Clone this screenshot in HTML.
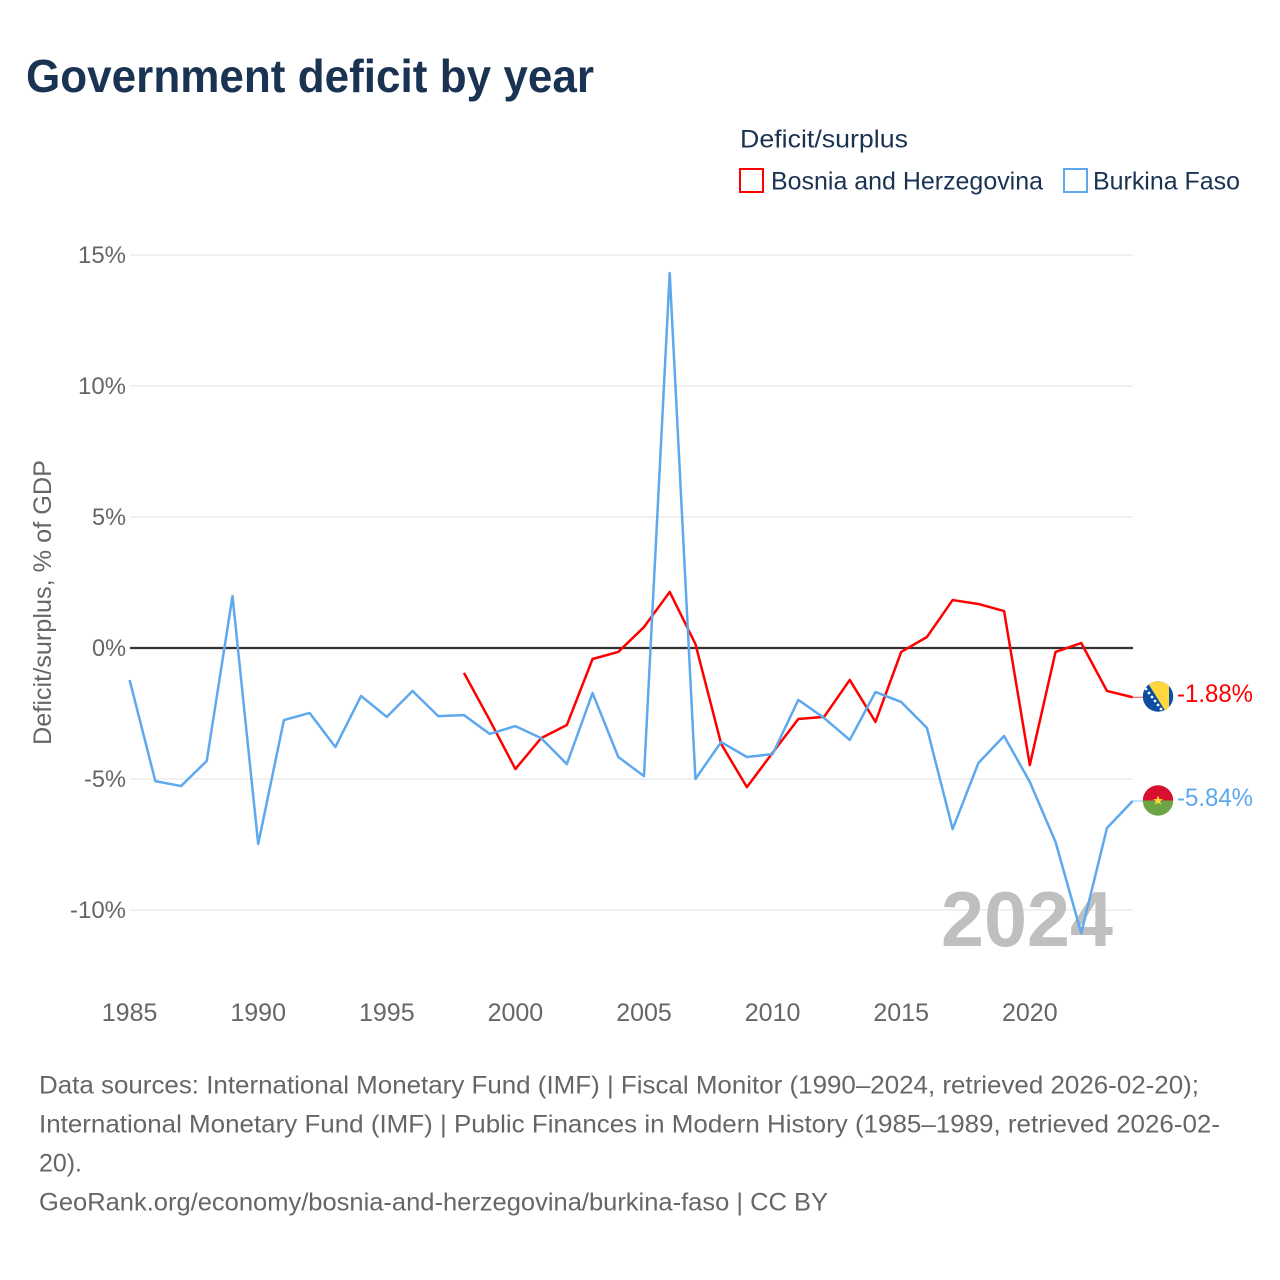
<!DOCTYPE html>
<html lang="en">
<head>
<meta charset="utf-8">
<title>Government deficit by year</title>
<style>
  html, body { margin: 0; padding: 0; background: #fff; }
  svg { display: block; font-family: "Liberation Sans", sans-serif; }
</style>
</head>
<body>
<svg id="chart" width="1280" height="1280" viewBox="0 0 1280 1280" xmlns="http://www.w3.org/2000/svg">
  <defs>
    <clipPath id="flag-clip-a"><circle cx="1158" cy="696.5" r="15.2"/></clipPath>
    <clipPath id="flag-clip-b"><circle cx="1158" cy="800.5" r="15.2"/></clipPath>
  </defs>
  <rect x="0" y="0" width="1280" height="1280" fill="#ffffff"/>
  <text x="26" y="92" font-size="46" font-weight="700" fill="#1a3352" textLength="568" lengthAdjust="spacingAndGlyphs">Government deficit by year</text>
  <text x="740" y="147.5" font-size="25" fill="#1a3352" textLength="168" lengthAdjust="spacingAndGlyphs">Deficit/surplus</text>
  <rect x="740" y="169" width="23" height="23" fill="#fff" stroke="#ff0000" stroke-width="2"/>
  <text x="771" y="189.5" font-size="25" fill="#1a3352" textLength="272" lengthAdjust="spacingAndGlyphs">Bosnia and Herzegovina</text>
  <rect x="1064" y="169" width="23" height="23" fill="#fff" stroke="#5ea8ee" stroke-width="2"/>
  <text x="1093" y="189.5" font-size="25" fill="#1a3352" textLength="147" lengthAdjust="spacingAndGlyphs">Burkina Faso</text>
  <text transform="translate(51,745) rotate(-90)" x="0" y="0" font-size="25" fill="#666666" textLength="285" lengthAdjust="spacingAndGlyphs">Deficit/surplus, % of GDP</text>
  <g id="grid"></g>
  <g id="ylabels"></g>
  <g id="xlabels"></g>
  <text x="1113" y="946" text-anchor="end" font-size="78" font-weight="700" fill="#bfbfbf" textLength="172" lengthAdjust="spacingAndGlyphs">2024</text>
  <g id="series"></g>
  <g clip-path="url(#flag-clip-a)">
    <rect x="1142" y="681" width="32" height="32" fill="#0b4ea2"/>
    <polygon points="1146,680 1169,680 1169,712 1166,712" fill="#ffd83d"/>
    <g fill="#ffffff">
      <circle cx="1146" cy="689" r="1.4"/><circle cx="1149" cy="693" r="1.4"/><circle cx="1152" cy="697" r="1.4"/>
      <circle cx="1155" cy="701" r="1.4"/><circle cx="1158" cy="705" r="1.4"/><circle cx="1161" cy="709" r="1.4"/>
    </g>
  </g>
  <g clip-path="url(#flag-clip-b)">
    <rect x="1142" y="785" width="32" height="15.5" fill="#d80f2e"/>
    <rect x="1142" y="800.5" width="32" height="16" fill="#6da544"/>
    <polygon points="1158,795.5 1159.4,799.1 1163,799.1 1160,801.3 1161.2,804.9 1158,802.7 1154.8,804.9 1156,801.3 1153,799.1 1156.6,799.1" fill="#ffd83d"/>
  </g>
  <text id="value-a" x="1177" y="702" font-size="25" fill="#ff0000" textLength="76" lengthAdjust="spacingAndGlyphs"></text>
  <text id="value-b" x="1177" y="806" font-size="25" fill="#5ea8ee" textLength="76" lengthAdjust="spacingAndGlyphs"></text>
  <g font-size="25" fill="#666666">
    <text x="39" y="1093.5" textLength="1160" lengthAdjust="spacingAndGlyphs">Data sources: International Monetary Fund (IMF) | Fiscal Monitor (1990–2024, retrieved 2026-02-20);</text>
    <text x="39" y="1132.5" textLength="1181" lengthAdjust="spacingAndGlyphs">International Monetary Fund (IMF) | Public Finances in Modern History (1985–1989, retrieved 2026-02-</text>
    <text x="39" y="1171.5" textLength="43" lengthAdjust="spacingAndGlyphs">20).</text>
    <text x="39" y="1210.5" textLength="789" lengthAdjust="spacingAndGlyphs">GeoRank.org/economy/bosnia-and-herzegovina/burkina-faso | CC BY</text>
  </g>
</svg>
<script>
const years = [1985,1986,1987,1988,1989,1990,1991,1992,1993,1994,1995,1996,1997,1998,1999,2000,2001,2002,2003,2004,2005,2006,2007,2008,2009,2010,2011,2012,2013,2014,2015,2016,2017,2018,2019,2020,2021,2022,2023,2024];
const burkinaValues = [-1.22,-5.08,-5.27,-4.31,1.98,-7.48,-2.75,-2.48,-3.78,-1.83,-2.63,-1.64,-2.6,-2.56,-3.28,-2.98,-3.44,-4.43,-1.72,-4.16,-4.89,14.31,-5.0,-3.59,-4.16,-4.05,-1.98,-2.67,-3.51,-1.68,-2.06,-3.05,-6.91,-4.39,-3.36,-5.11,-7.4,-10.88,-6.87,-5.84];
const bosniaValues = [null,null,null,null,null,null,null,null,null,null,null,null,null,-0.95,-2.75,-4.62,-3.44,-2.94,-0.42,-0.15,0.8,2.14,0.15,-3.66,-5.31,-4.0,-2.71,-2.63,-1.22,-2.82,-0.15,0.42,1.83,1.68,1.41,-4.47,-0.15,0.19,-1.64,-1.88];
const yTicks = [15,10,5,0,-5,-10];
const xTicks = [1985,1990,1995,2000,2005,2010,2015,2020];

const NS = 'http://www.w3.org/2000/svg';
function xScale(year) { return 129.6 + (year - 1985) * 25.72; }
function yScale(value) { return 648 - value * 26.2; }
function make(tag, parent, attrs) {
  const el = document.createElementNS(NS, tag);
  for (const k in attrs) el.setAttribute(k, attrs[k]);
  parent.appendChild(el);
  return el;
}

const grid = document.getElementById('grid');
const ylabels = document.getElementById('ylabels');
yTicks.forEach(function (t) {
  const line = make('line', grid, { x1: 130, x2: 1133, y1: yScale(t), y2: yScale(t), stroke: t === 0 ? '#333333' : '#ebebeb', 'stroke-width': t === 0 ? 2.2 : 1.6 });
  
  
  const txt = t + '%';
  const digits = String(Math.abs(t)).length;
  const labelWidth = digits * 14 + 20 + (t < 0 ? 8 : 0);
  const label = make('text', ylabels, { x: 126, y: yScale(t) + 8, 'text-anchor': 'end', 'font-size': 24, fill: '#666666', textLength: labelWidth, lengthAdjust: 'spacingAndGlyphs' });
  label.textContent = txt;
  
  
});

const xlabels = document.getElementById('xlabels');
xTicks.forEach(function (t) {
  const label = make('text', xlabels, { x: xScale(t), y: 1021, 'text-anchor': 'middle', 'font-size': 25, fill: '#666666' });
  label.textContent = t;
  
  
});

function pointsFor(values) {
  const pts = [];
  values.forEach(function (v, i) {
    if (v !== null) pts.push(xScale(years[i]).toFixed(2) + ',' + yScale(v).toFixed(2));
  });
  return pts.join(' ');
}

const seriesGroup = document.getElementById('series');
const bosniaLine = make('polyline', seriesGroup, { points: pointsFor(bosniaValues), fill: 'none', stroke: '#ff0000', 'stroke-width': 2.5, 'stroke-linejoin': 'round' });


const burkinaLine = make('polyline', seriesGroup, { points: pointsFor(burkinaValues), fill: 'none', stroke: '#5ea8ee', 'stroke-width': 2.5, 'stroke-linejoin': 'round' });



const lastBosnia = bosniaValues[bosniaValues.length - 1];
const lastBurkina = burkinaValues[burkinaValues.length - 1];
const connectorA = make('line', seriesGroup, { x1: 1133, x2: 1143, y1: yScale(lastBosnia), y2: yScale(lastBosnia), stroke: '#ff0000', 'stroke-width': 1, opacity: 0.7 });


const connectorB = make('line', seriesGroup, { x1: 1133, x2: 1143, y1: yScale(lastBurkina), y2: yScale(lastBurkina), stroke: '#5ea8ee', 'stroke-width': 1, opacity: 0.7 });



document.getElementById('value-a').textContent = lastBosnia.toFixed(2) + '%';
document.getElementById('value-b').textContent = lastBurkina.toFixed(2) + '%';
</script>
</body>
</html>
